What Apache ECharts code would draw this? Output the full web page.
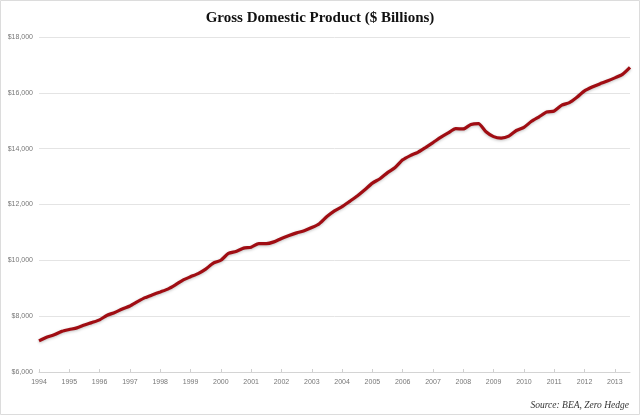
<!DOCTYPE html>
<html>
<head>
<meta charset="utf-8">
<title>Gross Domestic Product</title>
<script src="https://cdn.jsdelivr.net/npm/echarts@6/dist/echarts.min.js"></script>
<style>
    html, body {margin: 0; padding: 0; background: #fff;}
    #map {width: 640px; height: 415px;}
</style>
</head>
<body>
<div id="map"></div>
<script>
// years shown on the x axis, one label every 4 quarters
var years = ['1994', '1995', '1996', '1997', '1998', '1999', '2000', '2001', '2002', '2003',
    '2004', '2005', '2006', '2007', '2008', '2009', '2010', '2011', '2012', '2013'];

// nominal GDP, quarterly, $ billions (1994Q1 - 2013Q3)
var gdp = [
    7116, 7247, 7331, 7455,
    7522, 7581, 7683, 7773,
    7869, 8033, 8131, 8260,
    8363, 8519, 8663, 8766,
    8867, 8970, 9121, 9294,
    9412, 9526, 9687, 9900,
    10002, 10248, 10318, 10436,
    10470, 10599, 10598, 10661,
    10784, 10888, 10984, 11061,
    11174, 11313, 11567, 11772,
    11923, 12113, 12305, 12527,
    12767, 12923, 13143, 13324,
    13599, 13753, 13870, 14040,
    14216, 14402, 14564, 14715,
    14707, 14866, 14899, 14608,
    14431, 14381, 14449, 14651,
    14765, 14980, 15142, 15310,
    15351, 15558, 15648, 15842,
    16069, 16207, 16320, 16420,
    16535, 16661, 16913
];

var yTicks = {min: 6000, max: 18000, step: 2000};

// quarter categories, label only on Q1
var quarters = [];
for (var i = 0; i < gdp.length; i++) {
    quarters.push(years[Math.floor(i / 4)] + (i % 4 === 0 ? '' : ' Q' + (i % 4 + 1)));
}

var myChart = echarts.init(document.getElementById('map'));
var option = {
    animation: false,
    backgroundColor: '#fff',
    title: {
        left: 'center',
        top: 6,
        text: 'Gross Domestic Product ($ Billions)',
        textStyle: {
            fontFamily: 'Liberation Serif',
            fontWeight: 'bold',
            fontSize: 15,
            color: '#111'
        }
    },
    graphic: [{
        type: 'rect',
        shape: {x: 0.5, y: 0.5, width: 639, height: 414},
        style: {fill: 'none', stroke: '#dcdcdc', lineWidth: 1},
        silent: true
    }, {
        type: 'text',
        right: 11,
        top: 400,
        style: {
            text: 'Source: BEA, Zero Hedge',
            font: 'italic 9.5px "Liberation Serif"',
            fill: '#333'
        }
    }],
    grid: {left: 39, right: 10, top: 37, bottom: 43},
    xAxis: {
        type: 'category',
        boundaryGap: false,
        data: quarters,
        axisLine: {lineStyle: {color: '#d4d4d4', width: 1}},
        axisTick: {
            inside: true,
            length: 3,
            interval: function (idx) { return idx % 4 === 0; },
            lineStyle: {color: '#cfcfcf'}
        },
        axisLabel: {
            interval: function (idx) { return idx % 4 === 0; },
            formatter: function (v) { return v.slice(0, 4); },
            fontFamily: 'Liberation Sans',
            fontSize: 7,
            color: '#777',
            margin: 7
        },
        splitLine: {show: false}
    },
    yAxis: {
        type: 'value',
        min: yTicks.min,
        max: yTicks.max,
        interval: yTicks.step,
        axisLine: {show: false},
        axisTick: {show: false},
        axisLabel: {
            formatter: function (v) { return '$' + v.toLocaleString('en-US'); },
            fontFamily: 'Liberation Sans',
            fontSize: 7,
            color: '#777',
            margin: 6
        },
        splitLine: {lineStyle: {color: '#e4e4e4', width: 1}}
    },
    series: [{
        name: 'GDP',
        type: 'line',
        data: gdp,
        symbol: 'none',
        smooth: 0.2,
        lineStyle: {
            color: '#a00d13',
            width: 3.2,
            shadowColor: 'rgba(0, 0, 0, 0.25)',
            shadowBlur: 3,
            shadowOffsetY: 1
        }
    }]
};
myChart.setOption(option);
</script>
</body>
</html>
